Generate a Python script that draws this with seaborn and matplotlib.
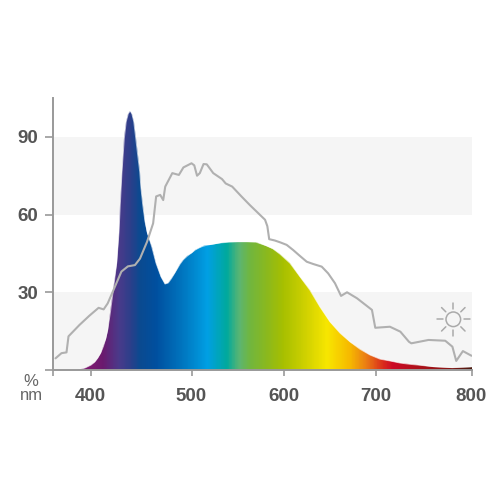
import numpy as np
import matplotlib
matplotlib.use("Agg")
import matplotlib.pyplot as plt
import seaborn as sns
from matplotlib.colors import LinearSegmentedColormap
from matplotlib.patches import Circle, Polygon

# spectrum of the lamp
lamp_nm = [362, 385, 390, 394.6, 400.5, 404, 407, 410, 412.7, 415, 417, 419.6, 422.6, 425.9, 428.2,
           429.5, 431.2, 433.5, 435.4, 437.5, 439.4, 441, 442.8, 444.8, 446.7, 448.7, 450, 451.7, 454,
           456.4, 460.6, 464.9, 469.8, 473.8, 477, 480, 483.7, 488.6, 492, 496, 500, 504, 508, 512, 516,
           520, 526, 532, 540, 550, 560, 570, 581, 588, 595.7, 606.5, 617.4, 628, 639, 650, 661, 671.7,
           682.6, 693.5, 704, 714.6, 725, 735, 744, 760, 780, 800]
lamp_val = [0, 0.1, 0.3, 0.8, 1.9, 3, 4.5, 6.5, 9, 12, 15.4, 21.9, 30.9, 41.2, 53,
            63.7, 76.6, 89.4, 95.9, 99, 100, 98.8, 95.9, 89.4, 83, 76.6, 70.1, 63.7, 57.2,
            53, 47.6, 41.2, 36, 33.2, 33.6, 35.2, 37.6, 40.8, 42.6, 44, 45.2, 46.3, 47.1, 47.7, 48.1,
            48.4, 48.8, 49.1, 49.3, 49.5, 49.5, 49.3, 48, 46.8, 44.7, 41.2, 36, 30.9, 24.4, 18.6, 14.2, 10.9,
            8, 5.8, 4.2, 3.5, 2.7, 2.2, 1.9, 1.3, 0.9, 1.2]

# sunlight reference curve
sun_nm = [365, 371, 376, 378, 389, 399, 408, 413, 417, 424, 430.6, 437, 444, 449, 456, 462, 465, 469,
          472, 474, 481, 487.5, 492, 500, 503, 506, 509, 513, 516.5, 523.5, 533, 537, 544, 554, 563,
          579.5, 582, 584, 590, 595.7, 602.9, 610, 617.4, 624.7, 631.9, 641, 648, 655.4, 662, 668.5,
          679.3, 695.6, 699.2, 714.6, 725.5, 734.5, 737, 755, 772.5, 780, 784, 791, 800]
sun_val = [4.5, 6.5, 6.8, 13, 17.4, 21, 24, 23.4, 25.7, 32, 38, 40, 40.5, 43, 49.5, 56.6, 67, 67.6,
           65.6, 70.8, 76, 75.3, 78.2, 79.8, 79, 75, 76, 79.5, 79.4, 76, 73.7, 72, 70.8, 67, 63.7,
           58, 55.5, 50.5, 50, 49.3, 48.3, 46.3, 44, 41.8, 40.9, 39.9, 37.3, 33.5, 28.6, 30,
           27.7, 23.2, 16.3, 16.7, 14.8, 10.9, 10.3, 11.6, 11.3, 9, 3.5, 7.3, 5.5]

# colour of the spectrum by wavelength
color_nm = [362, 400, 412, 428, 440, 449, 465, 489, 517, 538, 552, 563, 581, 599, 625, 647, 672, 690,
            708, 718, 742, 776, 800]
color_hex = ["#7a1a70", "#7a1a70", "#6a1a6e", "#4a3a8a", "#2a3f8a", "#0a4a90", "#004f9f", "#0072bc",
             "#009fe3", "#00a99d", "#5cb570", "#70b63f", "#8ab81e", "#a6bf00", "#d2d200", "#f7e600",
             "#f6b800", "#ea7b14", "#d92a1c", "#cc0a26", "#b0101a", "#8a1515", "#4a1a10"]

x_ticks = [400, 500, 600, 700, 800]
y_ticks = [30, 60, 90]
bands = [(0, 30), (60, 90)]

# the printed axis is not quite linear
scale_nm = [362, 400, 500, 600, 700, 800]
scale_pos = [52.5, 90.5, 191.5, 284, 376, 471.5]

GREY = "#999999"
TEXT = "#555555"

sns.set_style("white")
plt.rcParams["font.family"] = ["Liberation Sans", "DejaVu Sans"]

fig = plt.figure(figsize=(5, 5), dpi=100)
ax = fig.add_axes([52.5 / 500, 1 - 370 / 500, (471.5 - 52.5) / 500, 272 / 500])
ax.set_xscale("function", functions=(lambda v: np.interp(v, scale_nm, scale_pos),
                                     lambda v: np.interp(v, scale_pos, scale_nm)))
ax.set_xlim(362, 800)
ax.set_ylim(0, 105)

for low, high in bands:
    ax.axhspan(low, high, color="#f5f5f5", lw=0, zorder=0)

# gradient clipped to the lamp curve
edges = np.arange(362, 800.5, 0.5)
centers = (edges[:-1] + edges[1:]) / 2
stops = [(n - 362) / (800 - 362) for n in color_nm]
cmap = LinearSegmentedColormap.from_list("spectrum", list(zip(stops, color_hex)), N=512)
mesh = ax.pcolormesh(edges, [0, 105], centers[None, :], cmap=cmap, vmin=362, vmax=800, zorder=1)
outline = Polygon(np.column_stack([lamp_nm + [800, 362], lamp_val + [0, 0]]), closed=True,
                  transform=ax.transData, fc="none", ec="none")
ax.add_patch(outline)
mesh.set_clip_path(outline)
# soft edge, clip paths are not antialiased
ax.plot(lamp_nm, lamp_val, color="white", lw=0.7, alpha=0.6, zorder=1.5)

sns.lineplot(x=sun_nm, y=sun_val, ax=ax, color="#b0b0b0", lw=1.5, estimator=None, sort=False, zorder=2)

sns.despine(ax=ax)
for side in ["left", "bottom"]:
    ax.spines[side].set_color(GREY)
    ax.spines[side].set_linewidth(1.4)
    ax.spines[side].set_zorder(3)

ax.set_xticks([362] + x_ticks, [""] + [str(t) for t in x_ticks])
ax.set_yticks([0] + y_ticks, [""] + [str(t) for t in y_ticks])
ax.minorticks_off()
ax.tick_params(axis="x", length=4.5, width=1.2, color=GREY, pad=8.5, bottom=True, labelsize=13.5, labelcolor=TEXT)
ax.tick_params(axis="y", length=5.5, width=1.2, color=GREY, pad=4.5, left=True, labelsize=13.5, labelcolor=TEXT)
for label in ax.get_xticklabels() + ax.get_yticklabels():
    label.set_fontweight("bold")

fig.text(31 / 500, 1 - 381 / 500, "%", ha="center", va="center", fontsize=12, color="#666666")
fig.text(31 / 500, 1 - 396 / 500, "nm", ha="center", va="center", fontsize=12, color="#666666")

# sun icon, in figure pixels
cx, cy = 453.3 / 500, 1 - 319.3 / 500
fig.add_artist(Circle((cx, cy), 7.3 / 500, transform=fig.transFigure, fc="none", ec="#aaaaaa", lw=1.1))
for a in np.deg2rad(np.arange(0, 360, 45)):
    fig.add_artist(plt.Line2D([cx + 10.6 / 500 * np.cos(a), cx + 16.6 / 500 * np.cos(a)],
                              [cy + 10.6 / 500 * np.sin(a), cy + 16.6 / 500 * np.sin(a)],
                              transform=fig.transFigure, color="#aaaaaa", lw=1.1))

fig.savefig("out.png", dpi=100)
